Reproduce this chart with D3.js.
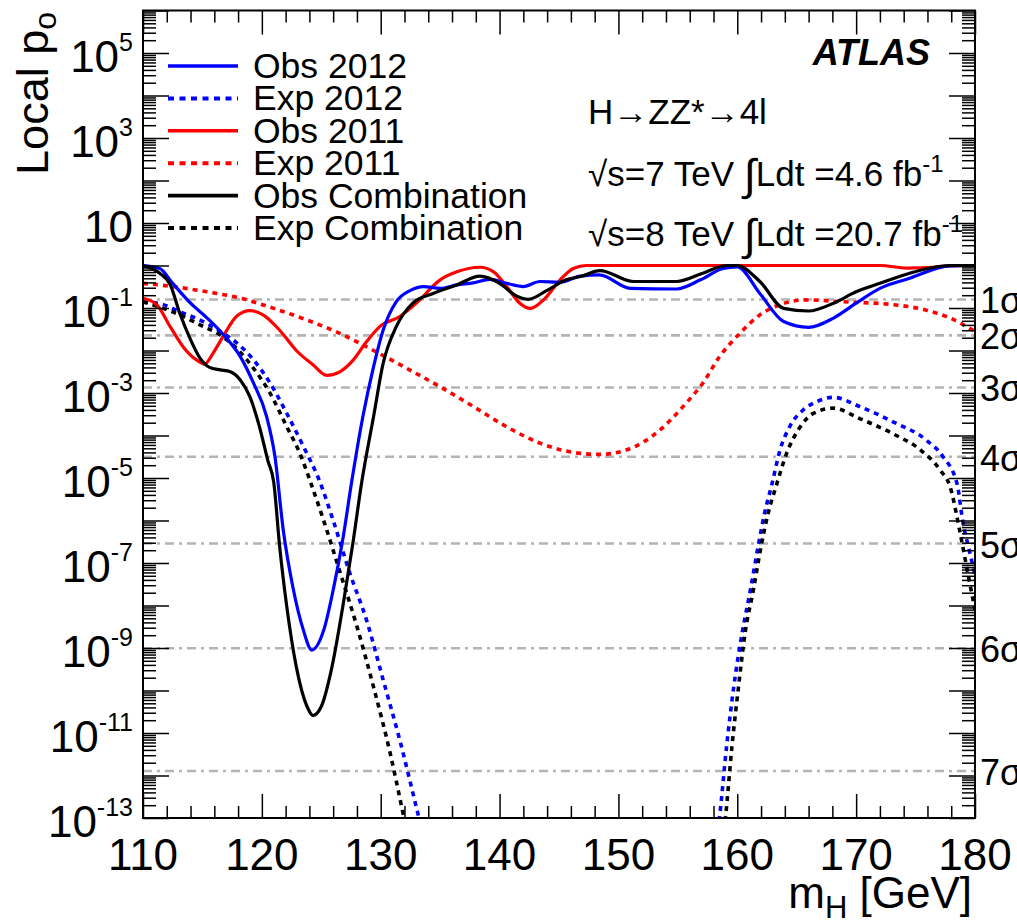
<!DOCTYPE html>
<html><head><meta charset="utf-8">
<script src="https://cdn.jsdelivr.net/npm/d3@7"></script>
<style>
body{margin:0;background:#fff;overflow:hidden}
svg{display:block}
text{font-family:"Liberation Sans",Arial,Helvetica,sans-serif;fill:#000}
</style>
</head><body><svg id="c" width="1017" height="924"></svg>
<script>
// ---------------- data (mass in GeV, local p0) ----------------
const obs2012 = [[110,1.0],[111.4,0.85],[112.5,0.38],[114.0,0.13],[115.4,0.058],[116.8,0.023],[118.2,7.1e-3],[119.3,1.7e-3],[120.4,2.8e-4],[121.1,3.2e-5],[121.8,6.0e-7],[122.6,2.8e-8],[123.5,2.6e-9],[124.2,8.9e-10],[125.2,2.6e-9],[126.0,2.3e-8],[126.85,4.2e-7],[127.55,7.9e-6],[128.5,2.8e-4],[129.4,4.2e-3],[130.2,0.030],[131.3,0.14],[132.5,0.26],[133.6,0.32],[135.0,0.29],[136.4,0.35],[137.8,0.39],[139.2,0.47],[140.6,0.38],[142.0,0.32],[143.4,0.42],[145.0,0.40],[146.8,0.56],[148.4,0.60],[151.0,0.29],[154.9,0.28],[156.9,0.46],[158.8,0.85],[160.0,0.93],[161.9,0.22],[163.9,0.048],[166.0,0.035],[168.1,0.058],[170.0,0.13],[172.0,0.29],[174.5,0.50],[177.9,0.98],[180,1.0]];
const exp2012 = [[110,0.14],[111.7,0.12],[113.1,0.081],[114.8,0.052],[116.5,0.028],[117.9,0.015],[119.3,6.0e-3],[120.7,1.7e-3],[122.1,3.3e-4],[123.5,5.5e-5],[124.9,7.9e-6],[126.0,1.0e-6],[127.4,5.8e-8],[128.8,4.6e-9],[130.2,1.8e-10],[131.6,6.9e-12],[133.15,1.2e-13],[134.0,1.3e-14],[146,null],[158.0,1e-14],[158.5,1e-13],[159.1,4.8e-12],[159.7,1.2e-10],[160.4,2.2e-9],[161.1,2.3e-8],[161.8,2.9e-7],[162.3,1.5e-6],[162.9,6.9e-6],[163.6,4.6e-5],[164.4,1.6e-4],[165.55,4.0e-4],[166.7,6.3e-4],[168.1,7.9e-4],[170.3,4.8e-4],[173.1,2.1e-4],[175.9,7.8e-5],[177.3,3.2e-5],[178.5,7.1e-6],[179.0,8.5e-7],[179.45,2.4e-7],[180,5.2e-8]];
const obs2011 = [[110,0.17],[111.15,0.12],[112.3,0.036],[113.4,0.012],[114.5,6.0e-3],[115.2,4.8e-3],[115.9,8.7e-3],[116.8,0.023],[117.9,0.065],[119.0,0.087],[120.1,0.069],[121.5,0.030],[122.9,0.010],[124.3,4.6e-3],[125.45,2.6e-3],[126.6,3.2e-3],[127.7,6.0e-3],[128.8,0.016],[129.9,0.036],[131.6,0.063],[133.0,0.13],[135.0,0.46],[136.4,0.71],[138.35,0.91],[139.5,0.71],[140.6,0.32],[141.7,0.13],[142.6,0.098],[143.7,0.155],[145.1,0.46],[146.2,0.85],[147.3,1.0],[172.0,1.0],[174.25,0.87],[176.5,0.91],[177.9,0.98],[180,1.0]];
const exp2011 = [[110,0.38],[112.5,0.32],[115.4,0.24],[118.2,0.17],[121.0,0.098],[123.8,0.052],[126.6,0.025],[129.4,0.010],[132.2,3.8e-3],[135.0,1.4e-3],[137.8,4.8e-4],[140.6,1.6e-4],[143.4,6.6e-5],[146.8,3.8e-5],[148.45,3.6e-5],[150.7,4.6e-5],[153.5,1.35e-4],[155.7,5.8e-4],[157.1,1.7e-3],[158.5,7.1e-3],[160.2,0.025],[161.9,0.069],[163.6,0.12],[165.8,0.155],[168.9,0.14],[173.1,0.12],[175.9,0.089],[177.9,0.058],[180,0.028]];
const obsComb = [[110,1.0],[111.4,0.66],[112.3,0.35],[113.1,0.074],[114.0,0.018],[114.8,6.6e-3],[115.6,4.0e-3],[116.5,3.5e-3],[117.3,3.2e-3],[118.2,2.0e-3],[119.0,8.1e-4],[119.8,1.6e-4],[120.5,2.6e-5],[121.0,7.9e-6],[121.5,2.4e-7],[122.1,9.3e-9],[122.9,3.6e-10],[123.8,4.2e-11],[124.3,2.6e-11],[125.0,4.2e-11],[125.9,3.6e-10],[126.85,1.1e-8],[127.7,3.5e-7],[128.4,7.9e-6],[129.4,2.8e-4],[130.2,4.9e-3],[131.3,0.036],[132.7,0.13],[134.4,0.22],[136.4,0.35],[138.35,0.56],[140.0,0.38],[141.45,0.19],[142.4,0.16],[144.0,0.26],[145.6,0.46],[146.8,0.55],[148.45,0.76],[151.25,0.42],[154.9,0.42],[157.1,0.66],[159.1,1.0],[160.0,1.0],[161.9,0.42],[163.9,0.098],[166.0,0.085],[168.1,0.13],[170.0,0.24],[172.0,0.38],[174.5,0.66],[177.9,1.0],[180,1.0]];
const expComb = [[110,0.14],[111.7,0.098],[113.1,0.069],[114.8,0.040],[116.5,0.023],[117.9,0.011],[119.3,3.8e-3],[120.7,9.8e-4],[122.1,1.6e-4],[123.2,3.8e-5],[124.1,7.9e-6],[125.2,1.0e-6],[126.6,5.8e-8],[128.0,3.2e-9],[129.4,1.2e-10],[130.8,3.3e-12],[131.9,1.2e-13],[132.7,1e-14],[146,null],[158.5,1e-14],[159.0,1e-13],[159.55,4.8e-12],[160.1,1.2e-10],[160.65,2.2e-9],[161.35,2.3e-8],[162.05,2.9e-7],[162.6,1.5e-6],[163.3,6.9e-6],[164.15,3.8e-5],[165.3,1.6e-4],[166.4,3.3e-4],[168.1,4.4e-4],[170.3,2.5e-4],[173.1,1.1e-4],[175.4,4.6e-5],[177.1,1.5e-5],[177.9,6.3e-6],[178.7,6.0e-7],[179.45,4.8e-8],[180,7.9e-9]];

const sigmaP = [0.1587,0.02275,1.35e-3,3.167e-5,2.867e-7,9.866e-10,1.280e-12];
const sigmaLabels = ["1σ","2σ","3σ","4σ","5σ","6σ","7σ"];
const xMajor = [110,120,130,140,150,160,170,180];
const yLabelExp = [5,3,1,-1,-3,-5,-7,-9,-11,-13];

const series = [
  {name:"Obs 2012", data:obs2012, color:"#0000ff", dash:null},
  {name:"Exp 2012", data:exp2012, color:"#0000ff", dash:"5,5"},
  {name:"Obs 2011", data:obs2011, color:"#ff0000", dash:null},
  {name:"Exp 2011", data:exp2011, color:"#ff0000", dash:"5,5"},
  {name:"Obs Combination", data:obsComb, color:"#000000", dash:null},
  {name:"Exp Combination", data:expComb, color:"#000000", dash:"5,5"}
];

// ---------------- layout ----------------
const L=143,R=975,T=10.5,B=818;
const svg=d3.select("#c");
const x=d3.scaleLinear().domain([110,180]).range([L,R]);
const y=d3.scaleLog().domain([1e-13,1e6]).range([B,T]);

svg.append("rect").attr("width",1017).attr("height",924).attr("fill","#fff");
svg.append("defs").append("clipPath").attr("id","clip")
  .append("rect").attr("x",L).attr("y",T).attr("width",R-L).attr("height",B-T);

// sigma lines
const gs=svg.append("g");
gs.selectAll("line").data(sigmaP).join("line")
  .attr("x1",L).attr("x2",R).attr("y1",d=>y(d)).attr("y2",d=>y(d))
  .attr("stroke","#b4b4b4").attr("stroke-width",2.6).attr("stroke-dasharray","9,5,3,5");
gs.selectAll("text").data(sigmaP).join("text")
  .attr("x",980).attr("y",d=>y(d)+14).attr("font-size",36).text((d,i)=>sigmaLabels[i]);

// curves
const line=d3.line().defined(d=>d[1]!=null).x(d=>x(d[0])).y(d=>y(d[1])).curve(d3.curveMonotoneX);
const gc=svg.append("g").attr("clip-path","url(#clip)");
const order=[3,1,5,2,0,4];
order.forEach(i=>{
  const s=series[i];
  gc.append("path").attr("d",line(s.data)).attr("fill","none")
    .attr("stroke",s.color).attr("stroke-width",s.dash?3.6:3.2)
    .attr("stroke-dasharray",s.dash).attr("stroke-linejoin","round");
});

// axes ticks (inward)
const xMinor=d3.range(110,181,2).filter(v=>!xMajor.includes(v));
function tickAxis(axis, vals, size){ return axis.tickValues(vals).tickSize(size).tickFormat(""); }
const ax=svg.append("g").attr("stroke","#000");
ax.append("g").attr("transform",`translate(0,${B})`).call(tickAxis(d3.axisBottom(x),xMajor,-24));
ax.append("g").attr("transform",`translate(0,${B})`).call(tickAxis(d3.axisBottom(x),xMinor,-12));
ax.append("g").attr("transform",`translate(0,${T})`).call(tickAxis(d3.axisTop(x),xMajor,-24));
ax.append("g").attr("transform",`translate(0,${T})`).call(tickAxis(d3.axisTop(x),xMinor,-12));
const yMajor=d3.range(-13,7).map(e=>Math.pow(10,e));
const yMinor=[];
d3.range(-13,6).forEach(e=>{for(let k=2;k<=9;k++) yMinor.push(k*Math.pow(10,e));});
ax.append("g").attr("transform",`translate(${L},0)`).call(tickAxis(d3.axisLeft(y),yMajor,-26));
ax.append("g").attr("transform",`translate(${L},0)`).call(tickAxis(d3.axisLeft(y),yMinor,-13));
ax.append("g").attr("transform",`translate(${R},0)`).call(tickAxis(d3.axisRight(y),yMajor,-26));
ax.append("g").attr("transform",`translate(${R},0)`).call(tickAxis(d3.axisRight(y),yMinor,-13));
ax.selectAll(".domain").remove();
ax.selectAll(".tick line").attr("stroke","#000").attr("stroke-width",1.5);
svg.append("rect").attr("x",L).attr("y",T).attr("width",R-L).attr("height",B-T)
  .attr("fill","none").attr("stroke","#000").attr("stroke-width",2);

// tick labels
svg.append("g").selectAll("text").data(xMajor).join("text")
  .attr("x",d=>x(d)).attr("y",870).attr("text-anchor","middle").attr("font-size",44).text(d=>d);
const yl=svg.append("g").selectAll("text").data(yLabelExp).join("text")
  .attr("x",133).attr("y",d=>y(Math.pow(10,d))+19).attr("text-anchor","end").attr("font-size",44);
yl.append("tspan").text("10");
yl.filter(d=>d!==1).append("tspan").attr("dy",-21).attr("font-size",25).text(d=>d);

// axis titles
const yt=svg.append("text").attr("transform","translate(48,12) rotate(-90)")
  .attr("text-anchor","end").attr("font-size",45);
yt.append("tspan").text("Local p");
yt.append("tspan").attr("dy",8).attr("font-size",32).text("o");
const xt=svg.append("text").attr("x",972).attr("y",908).attr("text-anchor","end").attr("font-size",44);
xt.append("tspan").text("m");
xt.append("tspan").attr("dy",10).attr("font-size",31).text("H");
xt.append("tspan").attr("dy",-10).text(" [GeV]");

// legend
const lg=svg.append("g");
series.forEach((s,i)=>{
  const cy=66+i*32.4;
  lg.append("line").attr("x1",168).attr("x2",238).attr("y1",cy).attr("y2",cy)
    .attr("stroke",s.color).attr("stroke-width",s.dash?4:3.6).attr("stroke-dasharray",s.dash?"6,5.5":null);
  lg.append("text").attr("x",253).attr("y",cy+12).attr("font-size",35.5).text(s.name);
});

// annotations
svg.append("text").attr("x",930).attr("y",65).attr("text-anchor","end")
  .attr("font-size",36).attr("font-weight","bold").attr("font-style","italic").text("ATLAS");
svg.append("text").attr("x",588).attr("y",124).attr("font-size",35).text("H→ZZ*→4l");
const a1=svg.append("text").attr("x",588).attr("y",186).attr("font-size",35);
a1.append("tspan").text("√s=7 TeV ");
a1.append("tspan").attr("font-size",44).attr("dy",4).text("∫");
a1.append("tspan").attr("dy",-4).text("Ldt =4.6 fb");
a1.append("tspan").attr("dy",-14).attr("font-size",24).text("-1");
const a2=svg.append("text").attr("x",588).attr("y",246).attr("font-size",35);
a2.append("tspan").text("√s=8 TeV ");
a2.append("tspan").attr("font-size",44).attr("dy",4).text("∫");
a2.append("tspan").attr("dy",-4).text("Ldt =20.7 fb");
a2.append("tspan").attr("dy",-14).attr("font-size",24).text("-1");
</script>
</body></html>
